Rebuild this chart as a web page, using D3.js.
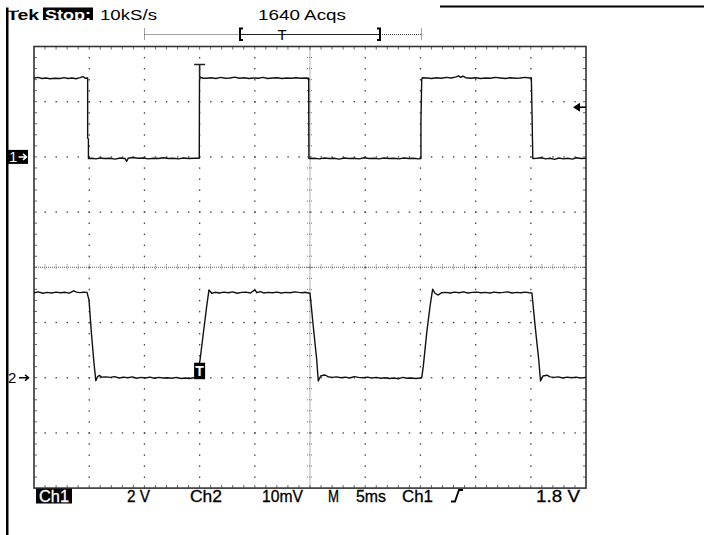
<!DOCTYPE html>
<html>
<head>
<meta charset="utf-8">
<script src="https://cdn.jsdelivr.net/npm/d3@7"></script>
<style>
  html, body { margin: 0; padding: 0; background: #fff; }
  svg { display: block; }
  text { font-family: "Liberation Sans", Arial, sans-serif; }
</style>
</head>
<body>
<svg id="scope" width="704" height="535"></svg>
<script>
// ---- Acquisition settings -------------------------------------------------
// Horizontal: 5 ms/div, time in ms relative to the trigger point
const timeTicks = [-15, -10, -5, 0, 5, 10, 15, 20, 25, 30, 35];
// Ch1: 2 V/div (ground marker at 0 V)
const ch1Ticks = [-12, -10, -8, -6, -4, -2, 0, 2, 4];
// Ch2: 10 mV/div (ground marker at 0 mV)
const ch2Ticks = [-20, -10, 0, 10, 20, 30, 40, 50, 60];
const triggerLevel = 1.8;   // V, on Ch1, rising edge
const triggerTime = 0;      // ms

// ---- Ch1 record: [time ms, volts] ----------------------------------------
const ch1Trace = [
  [-15.00,2.86],[-14.64,2.88],[-14.28,2.84],[-13.91,2.86],[-13.55,2.83],[-13.10,2.85],[-12.65,2.84],
  [-12.28,2.87],[-11.92,2.84],[-11.55,2.86],[-11.19,2.83],[-10.83,2.87],[-10.55,2.91],[-10.37,2.85],[-10.14,2.86],
  [-10.14,0.68],[-10.07,0.65],[-10.07,-0.06],
  [-9.75,-0.05],[-9.38,-0.07],[-9.02,-0.04],[-8.65,-0.06],[-8.11,-0.05],[-7.65,-0.08],[-7.20,-0.04],
  [-6.75,-0.06],[-6.60,-0.16],[-6.47,-0.05],[-6.10,-0.02],[-5.55,-0.05],[-5.10,-0.04],[-4.64,-0.07],
  [-4.19,-0.05],[-3.73,-0.06],[-3.28,-0.03],[-2.82,-0.06],[-2.37,-0.05],[-1.91,-0.07],[-1.46,-0.04],
  [-1.00,-0.06],[-0.55,-0.05],[-0.03,-0.05],
  [-0.01,2.81],[0.08,2.89],[0.30,2.85],
  [0.62,2.85],[1.05,2.87],[1.48,2.84],[1.90,2.88],[2.33,2.85],[2.76,2.86],[3.18,2.89],[3.61,2.85],
  [4.04,2.87],[4.46,2.84],[4.89,2.86],[5.32,2.85],[5.74,2.88],[6.17,2.84],[6.60,2.86],[7.02,2.87],
  [7.45,2.84],[7.88,2.86],[8.30,2.85],[8.73,2.87],[9.16,2.85],[9.55,2.86],[9.88,2.85],
  [9.90,-0.05],[9.98,-0.06],
  [10.40,-0.05],[10.85,-0.07],[11.30,-0.04],[11.75,-0.06],[12.20,-0.05],[12.65,-0.08],[13.10,-0.04],
  [13.55,-0.06],[14.00,-0.05],[14.45,-0.07],[14.90,-0.03],[15.35,-0.06],[15.80,-0.05],[16.25,-0.07],
  [16.70,-0.04],[17.15,-0.06],[17.60,-0.05],[18.05,-0.07],[18.50,-0.04],[18.95,-0.06],[19.40,-0.05],
  [19.80,-0.07],[20.05,-0.06],
  [20.05,1.28],[20.12,2.82],[20.20,2.87],
  [20.60,2.86],[21.00,2.84],[21.45,2.87],[21.90,2.85],[22.35,2.88],[22.80,2.86],[23.25,2.90],
  [23.45,2.94],[23.65,2.88],[23.85,2.93],[24.10,2.87],[24.55,2.85],[25.00,2.87],[25.45,2.84],
  [25.90,2.86],[26.35,2.85],[26.80,2.88],[27.25,2.86],[27.70,2.84],[28.15,2.87],[28.60,2.85],
  [29.05,2.86],[29.50,2.88],[29.90,2.86],[30.05,2.87],
  [30.12,1.40],[30.18,-0.06],
  [30.55,-0.05],[30.95,-0.03],[31.35,-0.07],[31.75,-0.05],[32.15,-0.09],[32.55,-0.04],[32.95,-0.07],
  [33.35,-0.05],[33.75,-0.08],[34.15,-0.03],[34.55,-0.06],[35.00,-0.05]
];

// ---- Ch2 record: [time ms, millivolts] -----------------------------------
const ch2Trace = [
  [-15.00,15.40],[-14.60,15.55],[-14.20,15.30],[-13.80,15.45],[-13.40,15.35],[-13.00,15.50],[-12.60,15.38],
  [-12.20,15.48],[-11.80,15.32],[-11.40,15.75],[-11.15,15.50],[-10.85,15.42],[-10.50,15.47],[-10.20,15.45],
  [-10.02,14.10],[-9.80,8.10],[-9.57,2.70],[-9.40,-0.55],[-9.22,0.25],[-9.05,0.40],[-8.88,0.10],
  [-8.50,0.15],[-8.10,0.05],[-7.70,0.20],[-7.30,-0.05],[-6.90,0.10],[-6.50,0.00],[-6.10,0.15],
  [-5.70,-0.10],[-5.30,0.05],[-4.90,-0.05],[-4.50,0.10],[-4.10,-0.10],[-3.70,0.05],[-3.30,-0.05],
  [-2.90,0.00],[-2.50,-0.10],[-2.10,0.05],[-1.70,-0.15],[-1.30,-0.05],[-0.90,-0.15],[-0.55,0.00],[-0.30,0.05],
  [0.04,3.20],[0.34,8.10],[0.64,12.90],[0.85,15.90],[1.10,15.30],[1.39,15.47],
  [1.80,15.35],[2.20,15.50],[2.60,15.40],[3.00,15.55],[3.40,15.30],[3.80,15.45],[4.20,15.50],
  [4.60,15.35],[5.00,15.90],[5.20,15.40],[5.50,15.60],[5.80,15.35],[6.20,15.45],[6.60,15.40],
  [7.00,15.50],[7.40,15.35],[7.80,15.45],[8.20,15.40],[8.60,15.55],[9.00,15.45],[9.30,15.40],
  [9.55,15.47],[9.85,15.35],
  [10.00,15.29],[10.30,9.24],[10.61,3.21],[10.75,-0.60],[10.97,0.31],[11.20,0.45],[11.36,0.49],[11.63,0.18],
  [12.00,0.05],[12.40,0.15],[12.80,0.00],[13.20,0.10],[13.60,-0.05],[14.00,0.20],[14.40,0.05],
  [14.80,0.00],[15.20,0.10],[15.60,-0.05],[16.00,0.05],[16.40,-0.10],[16.80,0.00],[17.20,-0.15],
  [17.60,-0.05],[18.00,-0.20],[18.40,0.05],[18.80,-0.10],[19.20,-0.05],[19.60,-0.15],[20.00,-0.05],[20.12,0.00],
  [20.26,2.00],[20.57,8.10],[20.87,12.90],[21.11,16.05],[21.32,15.30],[21.62,14.98],[21.93,15.40],
  [22.30,15.45],[22.70,15.35],[23.10,15.50],[23.50,15.40],[23.90,15.55],[24.30,15.35],[24.70,15.45],
  [25.10,15.50],[25.50,15.40],[25.90,15.45],[26.30,15.35],[26.70,15.50],[27.10,15.40],[27.50,15.45],
  [27.90,15.55],[28.30,15.35],[28.70,15.45],[29.10,15.40],[29.50,15.50],[29.85,15.40],[30.10,15.35],
  [30.40,9.20],[30.72,3.20],[30.88,-0.60],[31.10,0.30],[31.45,0.45],[31.75,0.15],
  [32.10,0.05],[32.50,0.15],[32.90,-0.05],[33.30,0.10],[33.70,0.00],[34.10,0.10],[34.50,-0.05],[35.00,0.05]
];

// ---- Readout texts --------------------------------------------------------
const headerLabels = ["Tek", "Stop:", "10kS/s", "1640 Acqs"];
const footerLabels = ["Ch1", "2 V", "Ch2", "10mV", "M", "5ms", "Ch1", "1.8 V"];

// ---- Layout ---------------------------------------------------------------
const G = { left: 34, right: 586, top: 46.5, bottom: 488.1 };
const headerLayout = [
  { x0: 7,   x1: 39,  bold: true,  inverse: false },
  { x0: 45,  x1: 91,  bold: true,  inverse: true  },
  { x0: 100, x1: 157, bold: false, inverse: false },
  { x0: 258, x1: 346, bold: false, inverse: false }
];
const footerLayout = [
  { x0: 39,  x1: 69,  inverse: true },
  { x0: 127, x1: 150 },
  { x0: 190, x1: 222 },
  { x0: 262, x1: 303 },
  { x0: 328, x1: 339 },
  { x0: 356, x1: 386 },
  { x0: 402, x1: 433 },
  { x0: 536, x1: 580 }
];

const svg = d3.select("#scope");

const x  = d3.scaleLinear().domain([timeTicks[0], timeTicks[timeTicks.length - 1]]).range([G.left, G.right]);
const y1 = d3.scaleLinear().domain([ch1Ticks[0], ch1Ticks[ch1Ticks.length - 1]]).range([G.bottom, G.top]);
const y2 = d3.scaleLinear().domain([ch2Ticks[0], ch2Ticks[ch2Ticks.length - 1]]).range([G.bottom, G.top]);

const vLines = timeTicks.map(t => x(t));
const hLines = ch1Ticks.map(v => y1(v));
const dx = (G.right - G.left) / (timeTicks.length - 1);
const dy = (G.bottom - G.top) / (ch1Ticks.length - 1);
const minorX = d3.range(0, (timeTicks.length - 1) * 5 + 1).map(i => G.left + i * dx / 5);
const minorY = d3.range(0, (ch1Ticks.length - 1) * 5 + 1).map(i => G.top + i * dy / 5);
const cx = vLines[5], cy = hLines[4];

// ---- Outer frame ----------------------------------------------------------
svg.append("rect").attr("x", 6).attr("y", 7.5).attr("width", 2.5).attr("height", 528).attr("fill", "#000");
svg.append("rect").attr("x", 440).attr("y", 5.5).attr("width", 264).attr("height", 2).attr("fill", "#000");

// ---- Graticule ------------------------------------------------------------
const grid = svg.append("g").attr("fill", "#444");

// dotted interior division lines
vLines.forEach((vx, i) => {
  if (i === 0 || i === vLines.length - 1 || i === 5) return;
  minorY.slice(1, -1).forEach(my => {
    grid.append("rect").attr("x", vx - 0.6).attr("y", my - 0.6).attr("width", 1.3).attr("height", 1.5);
  });
});
hLines.forEach((hy, i) => {
  if (i === 0 || i === hLines.length - 1 || i === 4) return;
  minorX.slice(1, -1).forEach(mx => {
    grid.append("rect").attr("x", mx - 0.6).attr("y", hy - 0.6).attr("width", 1.5).attr("height", 1.3);
  });
});

// center axes: fine dotted line with tick marks at every minor division
svg.append("line").attr("x1", G.left).attr("x2", G.right).attr("y1", cy).attr("y2", cy)
  .attr("stroke", "#666").attr("stroke-width", 1).attr("stroke-dasharray", "1,1");
svg.append("line").attr("x1", cx).attr("x2", cx).attr("y1", G.top).attr("y2", G.bottom)
  .attr("stroke", "#666").attr("stroke-width", 1).attr("stroke-dasharray", "1,1");
const ticks = svg.append("g").attr("stroke", "#777").attr("stroke-width", 1).attr("stroke-dasharray", "1,1");
minorX.slice(1, -1).forEach(mx => {
  ticks.append("line").attr("x1", mx).attr("x2", mx).attr("y1", cy - 3).attr("y2", cy + 3);
});
minorY.slice(1, -1).forEach(my => {
  ticks.append("line").attr("x1", cx - 3).attr("x2", cx + 3).attr("y1", my).attr("y2", my);
});

// border with inward tick marks
const border = svg.append("g").attr("stroke", "#666").attr("stroke-width", 1);
minorX.slice(1, -1).forEach(mx => {
  border.append("line").attr("x1", mx).attr("x2", mx).attr("y1", G.top).attr("y2", G.top + 3);
  border.append("line").attr("x1", mx).attr("x2", mx).attr("y1", G.bottom - 3).attr("y2", G.bottom);
});
minorY.slice(1, -1).forEach(my => {
  border.append("line").attr("x1", G.left).attr("x2", G.left + 3).attr("y1", my).attr("y2", my);
  border.append("line").attr("x1", G.right - 3).attr("x2", G.right).attr("y1", my).attr("y2", my);
});
svg.append("rect").attr("x", G.left).attr("y", G.top)
  .attr("width", G.right - G.left).attr("height", G.bottom - G.top)
  .attr("fill", "none").attr("stroke", "#333").attr("stroke-width", 1.6);

// ---- Traces ---------------------------------------------------------------
const line1 = d3.line().x(d => x(d[0])).y(d => y1(d[1]));
const line2 = d3.line().x(d => x(d[0])).y(d => y2(d[1]));
svg.append("path").attr("d", line1(ch1Trace)).attr("fill", "none")
  .attr("stroke", "#111").attr("stroke-width", 1.4).attr("stroke-linejoin", "round");
svg.append("path").attr("d", line2(ch2Trace)).attr("fill", "none")
  .attr("stroke", "#111").attr("stroke-width", 1.4).attr("stroke-linejoin", "round");

// ---- Trigger markers ------------------------------------------------------
const tx = x(triggerTime);
svg.append("path")
  .attr("d", `M${tx - 5.5},${y1(2.86) - 13.5}H${tx + 5.5}M${tx},${y1(2.86) - 13.5}V${y1(2.86)}`)
  .attr("stroke", "#222").attr("stroke-width", 1.6).attr("fill", "none");

svg.append("rect").attr("x", tx - 5.5).attr("y", y2(0) - 15).attr("width", 11).attr("height", 16.5).attr("fill", "#000");
svg.append("text").attr("x", tx).attr("y", y2(0) - 1.5).attr("text-anchor", "middle")
  .attr("fill", "#fff").attr("font-size", 14).attr("font-weight", "bold").text("T");

// trigger level arrow on the right edge
const ly = y1(triggerLevel);
svg.append("path").attr("d", `M${G.right - 13},${ly}L${G.right - 6},${ly - 4.5}L${G.right - 6},${ly + 4.5}Z`).attr("fill", "#000");
svg.append("line").attr("x1", G.right - 7).attr("x2", G.right).attr("y1", ly).attr("y2", ly)
  .attr("stroke", "#000").attr("stroke-width", 1.6);

// channel ground markers
const g1 = y1(0), g2 = y2(0);
svg.append("rect").attr("x", 7).attr("y", g1 - 7).attr("width", 21).attr("height", 14).attr("fill", "#000");
svg.append("text").attr("x", 9).attr("y", g1 + 5.5).attr("fill", "#fff").attr("font-size", 15).text("1");
svg.append("path").attr("d", `M18.5,${g1}H26M23,${g1 - 3}L26.5,${g1}L23,${g1 + 3}`)
  .attr("stroke", "#fff").attr("stroke-width", 1.5).attr("fill", "none");
svg.append("text").attr("x", 8).attr("y", g2 + 5.5).attr("fill", "#000").attr("font-size", 15).text("2");
svg.append("path").attr("d", `M19,${g2}H28M25,${g2 - 3}L28.5,${g2}L25,${g2 + 3}`)
  .attr("stroke", "#000").attr("stroke-width", 1.5).attr("fill", "none");

// ---- Record window indicator ---------------------------------------------
const rb = { x0: 144.5, x1: 421.5, y: 34.5, b0: 240, b1: 380 };
const rec = svg.append("g");
rec.append("line").attr("x1", rb.x0).attr("x2", rb.b0).attr("y1", rb.y).attr("y2", rb.y)
  .attr("stroke", "#444").attr("stroke-width", 1).attr("stroke-dasharray", "1,1");
rec.append("line").attr("x1", rb.b1).attr("x2", rb.x1).attr("y1", rb.y).attr("y2", rb.y)
  .attr("stroke", "#444").attr("stroke-width", 1).attr("stroke-dasharray", "1,1");
rec.append("line").attr("x1", rb.b0).attr("x2", rb.b1).attr("y1", rb.y).attr("y2", rb.y)
  .attr("stroke", "#222").attr("stroke-width", 1);
[rb.x0, rb.x1].forEach(ex => {
  rec.append("line").attr("x1", ex).attr("x2", ex).attr("y1", 28.5).attr("y2", 40.5)
    .attr("stroke", "#444").attr("stroke-width", 1).attr("stroke-dasharray", "1,1");
});
rec.append("path").attr("d", `M${rb.b0 + 3},28.5H${rb.b0}V40H${rb.b0 + 3}`)
  .attr("stroke", "#000").attr("stroke-width", 2).attr("fill", "none");
rec.append("path").attr("d", `M${rb.b1 - 3},28.5H${rb.b1}V40H${rb.b1 - 3}`)
  .attr("stroke", "#000").attr("stroke-width", 2).attr("fill", "none");
rec.append("text").attr("x", 282).attr("y", 40).attr("text-anchor", "middle")
  .attr("font-size", 15).attr("fill", "#000").text("T");

// ---- Header readout -------------------------------------------------------
// the cross-bar of the leading "T" is cut off by the screen edge
const hclip = svg.append("defs").append("clipPath").attr("id", "hdrclip");
hclip.append("rect").attr("x", 0).attr("y", 10.8).attr("width", 18).attr("height", 20);
hclip.append("rect").attr("x", 17.5).attr("y", 0).attr("width", 40).attr("height", 30);
headerLabels.forEach((s, i) => {
  const L = headerLayout[i];
  if (L.inverse) {
    svg.append("rect").attr("x", L.x0 - 2).attr("y", 7.5).attr("width", L.x1 - L.x0 + 4).attr("height", 12.5).attr("fill", "#000");
  }
  svg.append("text").attr("x", L.x0).attr("y", 19.5)
    .attr("clip-path", i === 0 ? "url(#hdrclip)" : null)
    .attr("font-size", 15).attr("font-weight", L.bold ? "bold" : "normal")
    .attr("fill", L.inverse ? "#fff" : "#000")
    .attr("textLength", L.x1 - L.x0).attr("lengthAdjust", "spacingAndGlyphs")
    .text(s);
});

// ---- Footer readout -------------------------------------------------------
footerLabels.forEach((s, i) => {
  const L = footerLayout[i];
  if (L.inverse) {
    svg.append("rect").attr("x", L.x0 - 3).attr("y", 488.5).attr("width", L.x1 - L.x0 + 6).attr("height", 15).attr("fill", "#000");
  }
  svg.append("text").attr("x", L.x0).attr("y", 501.5)
    .attr("font-size", 16.5)
    .attr("fill", L.inverse ? "#fff" : "#000")
    .attr("stroke", L.inverse ? "#fff" : "#000").attr("stroke-width", 0.3)
    .attr("textLength", L.x1 - L.x0).attr("lengthAdjust", "spacingAndGlyphs")
    .text(s);
});
// rising-edge trigger slope symbol
svg.append("path").attr("d", "M451,501.5H455L459,490H463")
  .attr("stroke", "#000").attr("stroke-width", 1.8).attr("fill", "none");
</script>
</body>
</html>
